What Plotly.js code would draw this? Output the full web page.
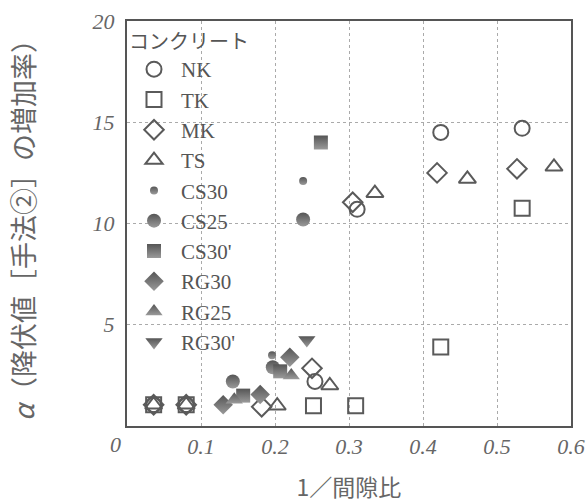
<!DOCTYPE html>
<html><head><meta charset="utf-8">
<script src="https://cdn.plot.ly/plotly-3.0.1.min.js"></script>
<style>html,body{margin:0;padding:0;background:#fff}</style>
</head><body>
<div id="chart" style="width:588px;height:503px"></div>
<script>
const seriesNames = ["NK","TK","MK","TS","CS30","CS25","CS30'","RG30","RG25","RG30'"];
const NK_x = [0.036,0.080,0.254,0.311,0.424,0.534];
const NK_y = [1.05,1.05,2.2,10.7,14.5,14.7];
const TK_x = [0.036,0.080,0.252,0.309,0.424,0.534];
const TK_y = [1.05,1.05,1.0,1.0,3.9,10.75];
const MK_x = [0.036,0.080,0.182,0.250,0.305,0.419,0.527];
const MK_y = [1.05,1.05,0.95,2.85,11.05,12.5,12.7];
const TS_x = [0.036,0.080,0.203,0.274,0.335,0.460,0.577];
const TS_y = [1.05,1.05,1.0,2.0,11.5,12.2,12.8];
const CS30_x = [0.196,0.238];
const CS30_y = [3.5,12.1];
const CS25_x = [0.143,0.197,0.238];
const CS25_y = [2.2,2.9,10.2];
const CS30p_x = [0.157,0.207,0.262];
const CS30p_y = [1.5,2.7,14.0];
const RG30_x = [0.130,0.180,0.220];
const RG30_y = [1.05,1.55,3.4];
const RG25_x = [0.145,0.222];
const RG25_y = [1.3,2.5];
const RG30p_x = [0.243];
const RG30p_y = [4.25];
const xTicks = [0.1,0.2,0.3,0.4,0.5,0.6];
const xTickText = ["0.1","0.2","0.3","0.4","0.5","0.6"];
const yTicks = [5,10,15,20];
const yTickText = ["5","10","15","20"];

const lineC = '#5a5a5a';
const fillC = '#555';
function openTrace(name, x, y, sym){
  return {type:'scatter', mode:'markers', name:name, x:x, y:y, legendgroup:name,
    marker:{symbol:sym, size:15, color:lineC, line:{color:lineC, width:2}}};
}
function fillTrace(name, x, y, sym, size){
  return {type:'scatter', mode:'markers', name:name, x:x, y:y, legendgroup:name,
    marker:{symbol:sym, size:size, color:fillC, gradient:{type:'vertical', color:'#9a9a9a'}, line:{width:0}}};
}
const data = [
  openTrace(seriesNames[0], NK_x, NK_y, 'circle-open'),
  openTrace(seriesNames[1], TK_x, TK_y, 'square-open'),
  openTrace(seriesNames[2], MK_x, MK_y, 'diamond-open'),
  openTrace(seriesNames[3], TS_x, TS_y, 'triangle-up-open'),
  fillTrace(seriesNames[4], CS30_x, CS30_y, 'circle', 8),
  fillTrace(seriesNames[5], CS25_x, CS25_y, 'circle', 14),
  fillTrace(seriesNames[6], CS30p_x, CS30p_y, 'square', 14),
  fillTrace(seriesNames[7], RG30_x, RG30_y, 'diamond', 15),
  fillTrace(seriesNames[8], RG25_x, RG25_y, 'triangle-up', 15),
  fillTrace(seriesNames[9], RG30p_x, RG30p_y, 'triangle-down', 15)
];
const serif = '"Liberation Serif", "Noto Sans CJK JP", serif';
const layout = {
  width:588, height:503,
  margin:{l:127, r:17, t:21, b:77},
  paper_bgcolor:'#fff', plot_bgcolor:'#fff',
  showlegend:true,
  legend:{x:0.0, y:0.995, xanchor:'left', yanchor:'top', bgcolor:'rgba(0,0,0,0)',
    traceorder:'grouped', tracegroupgap:0, itemsizing:'trace', itemwidth:44,
    font:{family:serif, size:21, color:'#555'},
    title:{text:'コンクリート', font:{family:'"Noto Sans CJK JP", serif', size:20, color:'#555'}}},
  xaxis:{range:[0,0.6], tickvals:xTicks, ticktext:xTickText, ticks:'', showgrid:true,
    gridcolor:'#aaa', griddash:'dot', gridwidth:1, zeroline:false,
    showline:true, linecolor:'#555', linewidth:2, mirror:true, ticklabelstandoff:0,
    tickfont:{family:serif, size:22, color:'#666', style:'italic'},
    title:{text:'1／間隙比', standoff:26, font:{family:'"Noto Sans CJK JP", serif', size:23, color:'#666'}}},
  yaxis:{range:[0,20], tickvals:yTicks, ticktext:yTickText, ticks:'', showgrid:true,
    gridcolor:'#aaa', griddash:'dot', gridwidth:1, zeroline:false,
    showline:true, linecolor:'#555', linewidth:2, mirror:true, ticklabelstandoff:6,
    tickfont:{family:serif, size:22, color:'#666', style:'italic'},
    title:{text:'<i>α</i>（降伏値［手法②］の増加率）', standoff:50, font:{family:'"Noto Sans CJK JP", serif', size:27, color:'#666'}}},
  annotations:[{x:0, y:0, xref:'x', yref:'y', text:'0', showarrow:false, xshift:-12, yshift:-18,
    font:{family:serif, size:22, color:'#666', style:'italic'}}]
};
Plotly.newPlot('chart', data, layout, {displayModeBar:false, staticPlot:true});
</script>
</body></html>
